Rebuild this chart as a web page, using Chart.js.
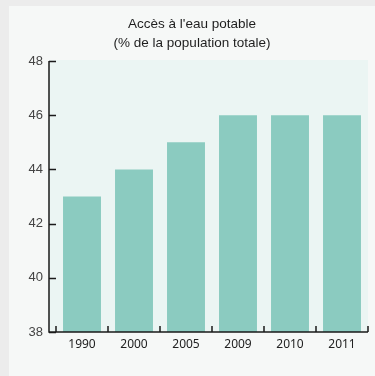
<!DOCTYPE html>
<html>
<head>
<meta charset="utf-8">
<script src="https://cdn.jsdelivr.net/npm/chart.js@4"></script>
<style>
  html, body { margin: 0; padding: 0; background: #ececec; }
  .card { position: absolute; left: 9px; top: 6px; width: 366px; height: 370px; background: #f6f8f7; }
</style>
</head>
<body>
<div class="card"><canvas id="chart" width="366" height="370"></canvas></div>
<script>
const years = ['1990', '2000', '2005', '2009', '2010', '2011']
const access = [43, 44, 45, 46, 46, 46]
const yTicks = [38, 40, 42, 44, 46, 48]
const titleLines = ["Accès à l'eau potable", '(% de la population totale)']

// axes are drawn by hand: ticks sit inside the plot like the original
const axesPlugin = {
  id: 'axes',
  beforeDatasetsDraw(chart) {
    const { ctx, chartArea: a } = chart
    ctx.save()
    ctx.fillStyle = '#ebf5f3'
    ctx.fillRect(a.left - 7, a.top - 1, a.right - a.left + 7, a.bottom - a.top + 1)
    ctx.restore()
  },
  afterDraw(chart) {
    const { ctx, chartArea: a, scales } = chart
    const y = scales.y, x = scales.x
    const x0 = a.left - 7
    ctx.save()
    ctx.strokeStyle = '#1a1a1a'
    ctx.lineWidth = 1.5
    ctx.beginPath()
    ctx.moveTo(x0, a.top)
    ctx.lineTo(x0, a.bottom)
    ctx.lineTo(a.right, a.bottom)
    yTicks.forEach(v => {
      const py = Math.round(y.getPixelForValue(v)) + 0.5
      ctx.moveTo(x0, py)
      ctx.lineTo(a.left, py)
    })
    const w = (a.right - a.left) / years.length
    for (let i = 0; i <= years.length; i++) {
      const px = a.left + i * w
      ctx.moveTo(px, a.bottom)
      ctx.lineTo(px, a.bottom - 6)
    }
    ctx.stroke()

    ctx.fillStyle = '#444'
    ctx.font = '13px "Liberation Sans", Arial, sans-serif'
    ctx.textAlign = 'right'
    ctx.textBaseline = 'middle'
    yTicks.forEach(v => ctx.fillText(String(v), a.left - 13, y.getPixelForValue(v)))

    ctx.fillStyle = '#222'
    ctx.font = '12px "Noto Sans", sans-serif'
    ctx.textAlign = 'center'
    years.forEach((lbl, i) => ctx.fillText(lbl, x.getPixelForValue(i), a.bottom + 13))

    // title centred on the card
    ctx.fillStyle = '#1e1e1e'
    ctx.font = '13.5px "Liberation Sans", Arial, sans-serif'
    titleLines.forEach((t, i) => ctx.fillText(t, chart.width / 2, 18 + i * 19))
    ctx.restore()
  }
}

new Chart(document.getElementById('chart').getContext('2d'), {
  type: 'bar',
  data: {
    labels: years,
    datasets: [
      {
        label: titleLines[0],
        data: access,
        backgroundColor: '#8bcbc0',
        borderWidth: 0,
        categoryPercentage: 1,
        barPercentage: 0.73,
      },
    ],
  },
  options: {
    responsive: false,
    animation: false,
    layout: { padding: { left: 47, right: 7, top: 55, bottom: 44 } },
    scales: {
      x: { display: false },
      y: { display: false, min: 38, max: 48 },
    },
    plugins: {
      legend: { display: false },
      tooltip: { enabled: false },
      title: { display: false },
    },
  },
  plugins: [axesPlugin],
})
</script>
</body>
</html>
